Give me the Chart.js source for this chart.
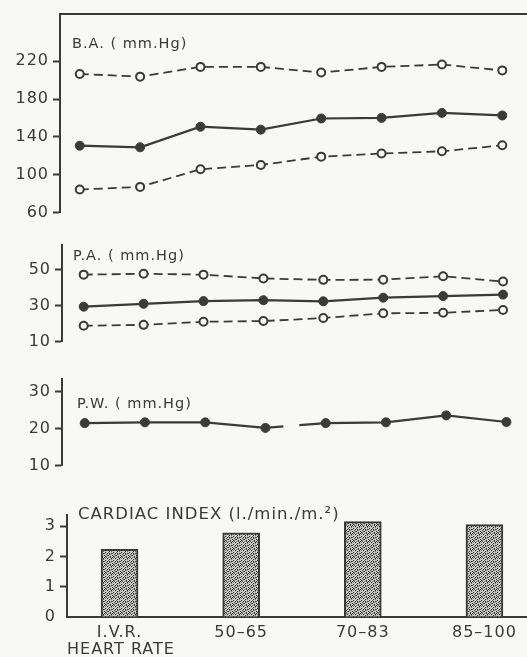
<!DOCTYPE html>
<html>
<head>
<meta charset="utf-8">
<script src="https://cdn.jsdelivr.net/npm/chart.js@4"></script>
<style>
  html, body { margin: 0; padding: 0; background: #f8f8f6; }
  body { width: 527px; height: 657px; position: relative; overflow: hidden; }
  .panel { position: absolute; left: 0; width: 527px; }
</style>
</head>
<body>
<div class="panel" style="top:0;height:226px"><canvas id="baChart"></canvas></div>
<div class="panel" style="top:231px;height:124px"><canvas id="paChart"></canvas></div>
<div class="panel" style="top:365px;height:114px"><canvas id="pwChart"></canvas></div>
<div class="panel" style="top:501px;height:156px"><canvas id="ciChart"></canvas></div>
<script>
// heart rate groups (bottom panel) and the readings per panel
const heartRateGroups = ["I.V.R.", "50–65", "70–83", "85–100"];
const baUpper = [206.5, 203.7, 214, 214, 208, 214, 216.5, 210.3];
const baMean = [130.6, 128.9, 150.7, 147.6, 159.4, 160, 165.3, 162.6];
const baLower = [84.2, 87, 105.7, 110.2, 119, 122.3, 124.7, 131];
const paUpper = [47.1, 47.6, 47.1, 45, 44.2, 44.3, 46.2, 43.3];
const paMean = [29.3, 30.9, 32.4, 32.9, 32.3, 34.3, 35.2, 36];
const paLower = [18.7, 19.2, 20.9, 21.3, 23, 25.6, 25.9, 27.5];
const pwMean = [21.5, 21.7, 21.7, 20.2, 21.5, 21.7, 23.6, 21.8];
const cardiacIndex = [2.23, 2.78, 3.15, 3.05];

const baTicks = [60, 100, 140, 180, 220];
const paTicks = [10, 30, 50];
const pwTicks = [10, 20, 30];
const ciTicks = [0, 1, 2, 3];

const ink = "#3a3a3a";
const paper = "#f8f8f6";
const tickFont = { family: "DejaVu Sans", size: 16 };

function xy(values) {
  return values.map((v, i) => ({ x: i + 1, y: v }));
}

// draws the panel caption inside the plot, plus optional frame line on top
function captionPlugin(text, dx, dy, size, topLine) {
  return {
    id: "caption",
    beforeDraw(chart) {
      chart.ctx.letterSpacing = "1px";
    },
    afterDraw(chart) {
      const { ctx, chartArea } = chart;
      ctx.save();
      ctx.letterSpacing = "1px";
      ctx.fillStyle = ink;
      ctx.font = size + "px 'DejaVu Sans'";
      ctx.textBaseline = "alphabetic";
      ctx.fillText(text, chartArea.left + dx, chartArea.top + dy);
      if (topLine) {
        ctx.strokeStyle = ink;
        ctx.lineWidth = 2;
        ctx.beginPath();
        ctx.moveTo(chartArea.left - 1, chartArea.top);
        ctx.lineTo(chart.width, chartArea.top);
        ctx.stroke();
      }
      ctx.restore();
    }
  };
}

function yAxis(min, max, ticks, width, hideZeroTick) {
  return {
    type: "linear",
    min: min,
    max: max,
    afterBuildTicks: s => { s.ticks = ticks.map(v => ({ value: v })); },
    afterFit: s => { s.width = width; },
    ticks: { font: tickFont, color: ink, padding: 4 },
    grid: {
      drawOnChartArea: false,
      drawTicks: true,
      tickLength: 7,
      tickWidth: 2,
      tickColor: c => (hideZeroTick && c.tick && c.tick.value === 0) ? "rgba(0,0,0,0)" : ink
    },
    border: { display: true, color: ink, width: 2 }
  };
}

function dashed(values) {
  return {
    data: xy(values),
    borderColor: ink,
    borderWidth: 1.8,
    borderDash: [9, 5],
    pointRadius: 4,
    pointBorderWidth: 2,
    pointBorderColor: ink,
    pointBackgroundColor: paper
  };
}

function solid(values) {
  return {
    data: xy(values),
    borderColor: ink,
    borderWidth: 2.2,
    pointRadius: 4.5,
    pointBorderWidth: 1,
    pointBorderColor: ink,
    pointBackgroundColor: ink
  };
}

function lineOptions(xMin, xMax, yMin, yMax, ticks, yWidth, padTop) {
  return {
    responsive: true,
    maintainAspectRatio: false,
    animation: false,
    layout: { padding: { top: padTop, bottom: 10, left: 0, right: 0 } },
    plugins: { legend: { display: false }, tooltip: { enabled: false } },
    scales: {
      x: { type: "linear", display: false, min: xMin, max: xMax },
      y: yAxis(yMin, yMax, ticks, yWidth, false)
    }
  };
}

new Chart(document.getElementById("baChart"), {
  type: "line",
  data: { datasets: [dashed(baUpper), solid(baMean), dashed(baLower)] },
  options: lineOptions(0.673, 8.31, 60, 270, baTicks, 60, 14),
  plugins: [captionPlugin("B.A. ( mm.Hg)", 12, 34, 14.5, true)]
});

new Chart(document.getElementById("paChart"), {
  type: "line",
  data: { datasets: [dashed(paUpper), solid(paMean), dashed(paLower)] },
  options: lineOptions(0.638, 8.30, 10, 63.8, paTicks, 62, 10),
  plugins: [captionPlugin("P.A. ( mm.Hg)", 11, 15, 14.5, false)]
});

const pwSet = solid(pwMean);
// the trace is broken between the 4th and 5th reading in the original
pwSet.segment = { borderDash: c => c.p0DataIndex === 3 ? [18, 16, 200, 0] : undefined };
new Chart(document.getElementById("pwChart"), {
  type: "line",
  data: { datasets: [pwSet] },
  options: lineOptions(0.623, 8.25, 10, 33.6, pwTicks, 62, 10),
  plugins: [captionPlugin("P.W. ( mm.Hg)", 15, 29, 14.5, false)]
});

function stipple() {
  const c = document.createElement("canvas");
  c.width = 8; c.height = 8;
  const g = c.getContext("2d");
  g.fillStyle = "#c4c4c1";
  g.fillRect(0, 0, 8, 8);
  g.fillStyle = "#333";
  [[0, 0], [3, 1], [6, 0], [1, 3], [5, 2], [2, 5], [7, 4], [4, 6], [6, 7], [0, 6], [3, 4], [7, 1], [1, 7], [5, 4]]
    .forEach(p => g.fillRect(p[0], p[1], 1, 1));
  g.fillStyle = "#6a6a6a";
  [[1, 1], [4, 3], [7, 2], [2, 7], [5, 5], [0, 4], [2, 0], [6, 5], [4, 0], [3, 6]].forEach(p => g.fillRect(p[0], p[1], 1, 1));
  return g.createPattern(c, "repeat");
}

new Chart(document.getElementById("ciChart"), {
  type: "bar",
  data: {
    datasets: [{
      data: xy(cardiacIndex),
      backgroundColor: stipple(),
      borderColor: ink,
      borderWidth: 2,
      borderSkipped: "bottom",
      barThickness: 37
    }]
  },
  options: {
    responsive: true,
    maintainAspectRatio: false,
    animation: false,
    layout: { padding: { top: 10, bottom: 0, left: 0, right: 0 } },
    plugins: { legend: { display: false }, tooltip: { enabled: false } },
    scales: {
      x: {
        type: "linear",
        min: 0.568,
        max: 4.35,
        offset: false,
        afterBuildTicks: s => { s.ticks = heartRateGroups.map((_, i) => ({ value: i + 1 })); },
        afterFit: s => { s.height = 40; },
        ticks: {
          font: tickFont, color: ink, padding: 6, maxRotation: 0, autoSkip: false,
          callback: v => heartRateGroups[v - 1]
        },
        grid: { display: false, drawTicks: false },
        border: { display: true, color: ink, width: 2 },
        title: {
          display: true, text: "HEART RATE", align: "start",
          font: tickFont, color: ink, padding: { top: 0, bottom: -2 }
        }
      },
      y: yAxis(0, 3.38, ciTicks, 67, true)
    }
  },
  plugins: [captionPlugin("CARDIAC INDEX (l./min./m.²)", 11, 4, 16.5, false)]
});
</script>
</body>
</html>
